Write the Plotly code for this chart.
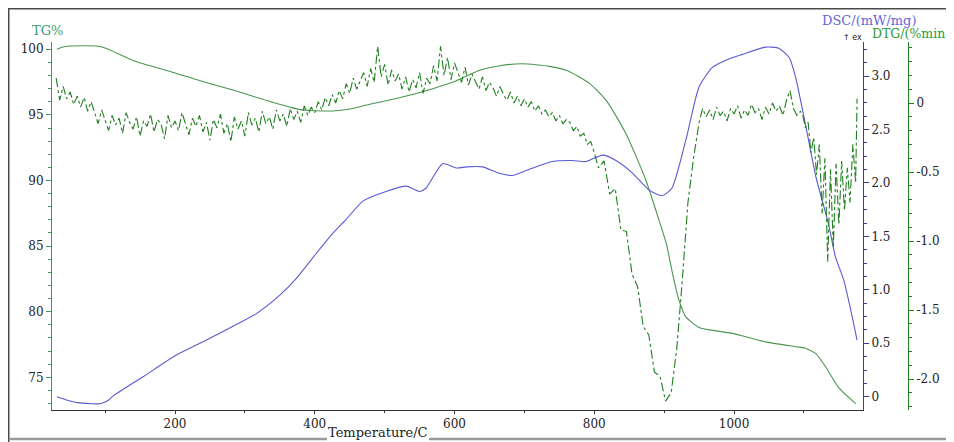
import plotly.graph_objects as go

# ---------------- data ----------------
tg_temp = [31, 38, 50, 70, 88, 100, 140, 200, 236, 283, 331, 364, 379, 400, 426, 450, 474,
           521, 569, 598, 636, 665, 697, 736, 760, 793, 817, 845, 874, 893, 903, 912, 921,
           931, 950, 979, 998, 1045, 1093, 1103, 1117, 1131, 1150, 1174]
tg_val = [100.0, 100.15, 100.25, 100.27, 100.25, 100.1, 99.15, 98.2, 97.6, 96.9, 96.1, 95.6,
          95.4, 95.32, 95.3, 95.45, 95.75, 96.3, 97.0, 97.5, 98.4, 98.75, 98.9, 98.7, 98.4,
          97.4, 96.1, 93.6, 90.0, 86.9, 85.2, 82.9, 80.9, 79.6, 78.8, 78.5, 78.35, 77.7, 77.3,
          77.2, 76.8, 75.8, 74.2, 73.0]

dsc_temp = [31, 45, 60, 80, 93, 100, 105, 112, 155, 202, 245, 283, 317, 350, 374, 402, 426,
            445, 469, 502, 531, 550, 559, 583, 603, 617, 640, 664, 683, 712, 740, 769, 788,
            812, 831, 855, 879, 897, 911, 931, 950, 969, 989, 1011, 1045, 1064, 1079, 1088,
            1103, 1117, 1131, 1136, 1145, 1157, 1169, 1176]
dsc_val = [0.0, -0.03, -0.055, -0.065, -0.065, -0.05, -0.03, 0.01, 0.19, 0.39, 0.53, 0.66,
           0.78, 0.95, 1.11, 1.34, 1.53, 1.66, 1.83, 1.92, 1.97, 1.92, 1.95, 2.18, 2.14, 2.15,
           2.15, 2.09, 2.07, 2.14, 2.2, 2.21, 2.2, 2.26, 2.21, 2.09, 1.93, 1.88, 1.95, 2.4, 2.9,
           3.08, 3.15, 3.2, 3.27, 3.26, 3.17, 2.99, 2.52, 2.06, 1.72, 1.59, 1.31, 1.09, 0.75,
           0.53]

dtg_temp = [
    30, 35, 40, 45, 50, 55, 60, 65, 70, 75, 80,
    85, 90, 95, 100, 105, 110, 115, 120, 125, 130, 135, 140, 145, 150, 155, 160, 165, 170,
    175, 180, 185, 190, 195, 200, 205, 210, 215, 220, 225, 230, 235, 240, 245, 250, 255,
    260, 265, 270, 275, 280, 285, 290, 295, 300, 305, 310, 315, 320, 325, 330, 335, 340,
    345, 350, 355, 360, 365, 370, 375, 380, 385, 390, 395, 400,
    405, 410, 415, 420, 425, 430, 435, 440, 445, 450, 455, 460, 465, 470, 475, 480, 485,
    490, 495, 500, 505, 510, 515, 520, 525, 530, 535, 540, 545, 550, 555, 560, 565, 570,
    575, 580, 585, 590, 595, 600, 605, 610, 615, 620, 625, 630, 635, 640, 645, 650, 655,
    660, 665, 670, 675, 680, 685, 690, 695, 700,
    705, 710, 715, 720, 725, 730, 735, 740, 745, 750, 755, 760, 765, 770, 775, 780, 785,
    790, 795, 800,
    806, 814, 822, 830, 838, 846, 854, 862, 870, 878, 886, 894, 902, 910, 918, 926, 934,
    942, 950,
    955, 960, 965, 970, 975, 980, 985, 990, 995, 1000, 1005, 1010, 1015, 1020, 1025, 1030,
    1035, 1040, 1045, 1050, 1055, 1060, 1065, 1070, 1075, 1080, 1085, 1090, 1095,
    1098, 1102, 1106, 1110, 1114, 1118, 1122, 1126, 1130, 1134, 1138, 1142, 1146, 1150,
    1154, 1158, 1162, 1166, 1170, 1174, 1176]
dtg_val = [
    0.18, 0.02, 0.12, 0.03, 0.08, -0.01, 0.05, -0.03, 0.04, -0.06, 0.01,
    -0.08, -0.15, -0.05, -0.12, -0.20, -0.09, -0.16, -0.11, -0.22, -0.07, -0.14, -0.19,
    -0.10, -0.24, -0.13, -0.17, -0.08, -0.21, -0.12, -0.15, -0.26, -0.09, -0.18, -0.13,
    -0.20, -0.07, -0.16, -0.23, -0.11, -0.17, -0.09, -0.21, -0.14, -0.27, -0.12, -0.18,
    -0.08, -0.22, -0.15, -0.28, -0.10, -0.19, -0.13, -0.24, -0.07, -0.16, -0.11, -0.21,
    -0.06, -0.15, -0.10, -0.19, -0.05, -0.13, -0.08, -0.17, -0.04, -0.12, -0.06, -0.14,
    -0.02, -0.09, -0.03, -0.07,
    0.01, -0.05, 0.04, -0.02, 0.06, 0.00, 0.09, 0.03, 0.14, 0.07, 0.18, 0.10, 0.16, 0.22,
    0.12, 0.25, 0.15, 0.41, 0.19, 0.28, 0.13, 0.24, 0.16, 0.21, 0.10, 0.19, 0.08, 0.17,
    0.11, 0.22, 0.07, 0.18, 0.14, 0.27, 0.16, 0.41, 0.20, 0.33, 0.17, 0.29, 0.22, 0.15,
    0.26, 0.13, 0.21, 0.16, 0.10, 0.19, 0.09, 0.15, 0.11, 0.05, 0.12, 0.06, 0.02, 0.08,
    0.00, 0.05, -0.02, 0.03,
    -0.03, 0.01, -0.06, -0.02, -0.08, -0.05, -0.10, -0.07, -0.13, -0.09, -0.15, -0.12,
    -0.14, -0.20, -0.17, -0.24, -0.22, -0.30, -0.28, -0.36,
    -0.47, -0.42, -0.66, -0.62, -0.92, -0.93, -1.24, -1.33, -1.62, -1.68, -1.95, -1.98,
    -2.16, -2.10, -1.78, -1.28, -0.72, -0.40, -0.14,
    -0.04, -0.10, -0.05, -0.12, -0.03, -0.09, -0.06, -0.13, -0.04, -0.08, -0.02, -0.11,
    -0.05, -0.09, -0.01, -0.07, -0.04, -0.12, -0.03, -0.08, 0.00, -0.06, -0.02, -0.09,
    0.02, 0.09, -0.04, -0.09, -0.06,
    -0.08, -0.18, -0.14, -0.36, -0.25, -0.52, -0.30, -0.80, -0.40, -1.15, -0.48, -1.05,
    -0.44, -0.88, -0.42, -0.78, -0.47, -0.72, -0.30, -0.58, 0.03]

x_ticks = [200, 400, 600, 800, 1000]
tg_ticks = [75, 80, 85, 90, 95, 100]
dsc_ticks = [0, 0.5, 1.0, 1.5, 2.0, 2.5, 3.0]
dsc_ticktext = ["0", "0.5", "1.0", "1.5", "2.0", "2.5", "3.0"]
dtg_ticks = [-2.0, -1.5, -1.0, -0.5, 0]
dtg_ticktext = ["-2.0", "-1.5", "-1.0", "-0.5", "0"]

# ---------------- styling ----------------
TG_COLOR = "#4a9650"
DTG_COLOR = "#1f7f1f"
DSC_COLOR = "#5a5ad2"
FRAME_COLOR = "#4a4a4a"
TICK_FONT = dict(family="DejaVu Serif", size=12, color="#222222")

# the page places the figure 8 px from the window's top-left corner
OFF = 8
W, H = 954 - OFF, 442 - OFF
ML, MT = 52 - OFF, 42 - OFF
PLOT_BOTTOM = 410 - OFF
MR = 20
MB = H - PLOT_BOTTOM
PW, PH = W - ML - MR, H - MT - MB


def px(x):  # window pixel -> paper x
    return (x - OFF - ML) / PW


def py(y):  # window pixel -> paper y
    return (H - MB - (y - OFF)) / PH


fig = go.Figure()
fig.add_trace(go.Scatter(x=dsc_temp, y=dsc_val, yaxis="y2", mode="lines",
                         line=dict(color=DSC_COLOR, width=1.1, shape="spline", smoothing=0.6),
                         hoverinfo="skip"))
fig.add_trace(go.Scatter(x=tg_temp, y=tg_val, yaxis="y", mode="lines",
                         line=dict(color=TG_COLOR, width=1.1, shape="spline", smoothing=0.6),
                         hoverinfo="skip"))
fig.add_trace(go.Scatter(x=dtg_temp, y=dtg_val, yaxis="y3", mode="lines",
                         line=dict(color=DTG_COLOR, width=1.1, dash="dashdot"),
                         hoverinfo="skip"))

axis_common = dict(showgrid=False, zeroline=False, showline=True, linewidth=1,
                   ticks="outside", tickfont=TICK_FONT)

fig.update_layout(
    width=W, height=H,
    margin=dict(l=ML, r=MR, t=MT, b=MB),
    # dark paper shows only as a thin border round the white panel below
    plot_bgcolor="white", paper_bgcolor=FRAME_COLOR,
    showlegend=False,
    xaxis=dict(domain=[0, px(863)], range=[24.0, 1184.5], tickvals=x_ticks,
               linecolor="#333333", tickcolor="#333333", ticklen=3,
               minor=dict(tick0=0, dtick=100, ticks="outside", ticklen=2, tickcolor="#333333"),
               **axis_common),
    yaxis=dict(range=[72.508, 100.556], tickvals=tg_ticks, linecolor=TG_COLOR,
               tickcolor=TG_COLOR, ticklen=5,
               minor=dict(tick0=0, dtick=1, ticks="outside", ticklen=3, tickcolor=TG_COLOR),
               **axis_common),
    yaxis2=dict(overlaying="y", side="right", anchor="x", range=[-0.124, 3.318],
                tickvals=dsc_ticks, ticktext=dsc_ticktext, linecolor="#3c3ca0",
                tickcolor="#3c3ca0", ticklen=5,
                minor=dict(tick0=0, dtick=0.125, ticks="outside", ticklen=3, tickcolor="#3c3ca0"),
                **axis_common),
    yaxis3=dict(overlaying="y", side="right", anchor="free", position=px(908),
                range=[-2.2246, 0.442], tickvals=dtg_ticks, ticktext=dtg_ticktext,
                linecolor=DTG_COLOR, tickcolor=DTG_COLOR, ticklen=5,
                minor=dict(tick0=0, dtick=0.1, ticks="outside", ticklen=3, tickcolor=DTG_COLOR),
                **axis_common),
)

# white panel inside the dark frame
fig.add_shape(type="rect", xref="paper", yref="paper",
              x0=px(9.5), y0=py(445), x1=px(951.5), y1=py(9.5),
              line=dict(width=0), fillcolor="white", layer="below")
# light bottom rule, broken by the axis label
fig.add_shape(type="line", xref="paper", yref="paper",
              x0=px(9.5), y0=py(439), x1=px(327), y1=py(439),
              line=dict(color="#9a9a9a", width=2.5), layer="above")
fig.add_shape(type="line", xref="paper", yref="paper",
              x0=px(429), y0=py(439), x1=px(951.5), y1=py(439),
              line=dict(color="#9a9a9a", width=2.5), layer="above")

annotations = [
    dict(text="TG%", x=px(47), y=py(30), font=dict(family="DejaVu Serif", size=13, color="#3aa070"),
         xanchor="center", yanchor="middle"),
    dict(text="DSC/(mW/mg)", x=px(869), y=py(20), font=dict(family="DejaVu Serif", size=13, color="#6666d6"),
         xanchor="center", yanchor="middle"),
    dict(text="DTG/(%min)", x=px(870), y=py(33), font=dict(family="DejaVu Serif", size=12.5, color="#2a9a3a"),
         xanchor="left", yanchor="middle"),
    dict(text="↑ ex", x=px(852), y=py(38), font=dict(family="DejaVu Sans", size=8, color="#222222"),
         xanchor="center", yanchor="middle"),
    dict(text="Temperature/C", x=px(378), y=py(432), font=dict(family="DejaVu Serif", size=13, color="#222222"),
         xanchor="center", yanchor="middle"),
]
for a in annotations:
    a.update(xref="paper", yref="paper", showarrow=False)
fig.update_layout(annotations=annotations)

fig.write_html("out.html")
